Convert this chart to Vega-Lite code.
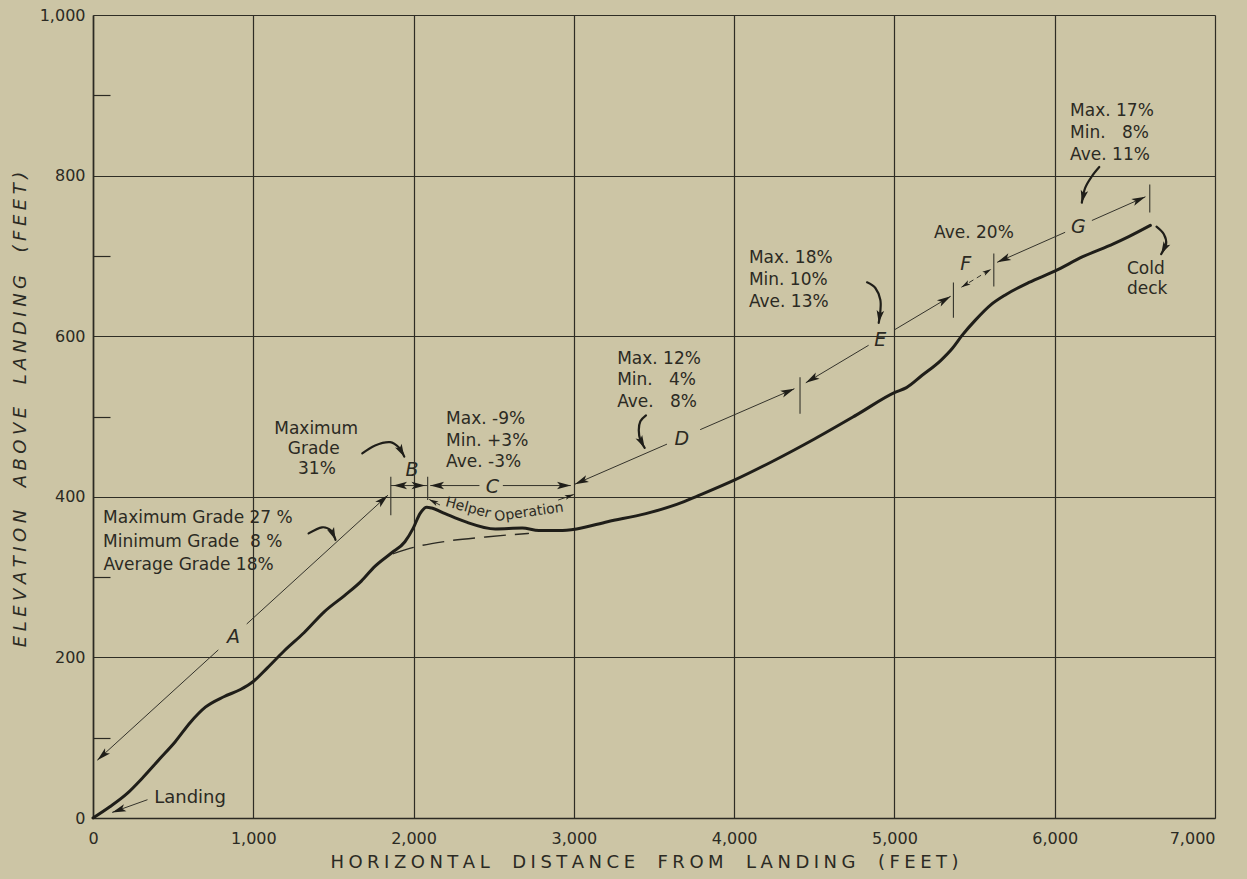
{
  "$schema": "https://vega.github.io/schema/vega-lite/v6.json",
  "width": 1122,
  "height": 803,
  "autosize": {"type": "none"},
  "padding": {"left": 93, "top": 15, "right": 32, "bottom": 61},
  "background": "#ccc5a5",
  "config": {"view": {"stroke": null}, "font": "DejaVu Sans"},
  "datasets": {
    "profile": [{"x":0,"y":0},{"x":105,"y":14},{"x":210,"y":30},{"x":314,"y":51},{"x":418,"y":74},{"x":513,"y":95},{"x":607,"y":119},{"x":701,"y":138},{"x":816,"y":151},{"x":920,"y":160},{"x":1000,"y":170},{"x":1088,"y":187},{"x":1192,"y":208},{"x":1318,"y":231},{"x":1444,"y":257},{"x":1569,"y":277},{"x":1674,"y":295},{"x":1757,"y":313},{"x":1862,"y":330},{"x":1946,"y":344},{"x":1998,"y":361},{"x":2040,"y":379},{"x":2082,"y":387},{"x":2113,"y":386},{"x":2197,"y":379},{"x":2322,"y":369},{"x":2510,"y":360},{"x":2678,"y":361},{"x":2782,"y":358},{"x":2908,"y":358},{"x":3017,"y":360},{"x":3210,"y":369},{"x":3449,"y":379},{"x":3688,"y":394},{"x":3760,"y":400},{"x":4004,"y":421},{"x":4238,"y":444},{"x":4501,"y":472},{"x":4764,"y":502},{"x":5003,"y":530},{"x":5075,"y":536},{"x":5171,"y":551},{"x":5290,"y":570},{"x":5362,"y":585},{"x":5422,"y":601},{"x":5505,"y":620},{"x":5601,"y":639},{"x":5697,"y":652},{"x":5840,"y":667},{"x":6000,"y":681},{"x":6175,"y":699},{"x":6366,"y":715},{"x":6462,"y":724},{"x":6597,"y":738}],
    "dashed": [{"x":1870,"y":329},{"x":2000,"y":337},{"x":2200,"y":344.5},{"x":2450,"y":350},{"x":2720,"y":354.5}],
    "dims": [{"x":27,"y":72,"x2":782,"y2":209.4},{"x":959,"y":241.6,"x2":1840,"y2":402},{"x":1858,"y":414,"x2":2088,"y2":414},{"x":2104,"y":414,"x2":2411,"y2":414},{"x":2557,"y":414,"x2":2981,"y2":414},{"x":3006,"y":415.7,"x2":3581,"y2":465.6},{"x":3788,"y":483.6,"x2":4376,"y2":534.6},{"x":4447,"y":542,"x2":4839,"y2":588.7},{"x":5000,"y":607.9,"x2":5351,"y2":649.7},{"x":5641,"y":692,"x2":6065,"y2":729.4},{"x":6232,"y":744.1,"x2":6566,"y2":773.6},{"x":119.5,"y":7,"x2":340,"y2":22.8},{"x":2098,"y":396.7,"x2":2165,"y2":389.7},{"x":2902,"y":395.9,"x2":3000,"y2":402.9}],
    "fdash": [{"x":5418,"y":661,"x2":5605,"y2":683.7}],
    "ticks": [{"x":1858,"y":377,"y2":425},{"x":2088,"y":396,"y2":425},{"x":4411,"y":503.5,"y2":549},{"x":5368,"y":623,"y2":667},{"x":5620,"y":662,"y2":703},{"x":6593,"y":754,"y2":789}],
    "curves": [
      {"id":"a","i":0,"x":1345,"y":354.5},{"id":"a","i":1,"x":1429,"y":362},{"id":"a","i":2,"x":1485,"y":357.9},{"id":"a","i":3,"x":1513,"y":346.3},
      {"id":"b","i":0,"x":1680,"y":454},{"id":"b","i":1,"x":1760,"y":464},{"id":"b","i":2,"x":1854,"y":468},{"id":"b","i":3,"x":1910,"y":461},{"id":"b","i":4,"x":1942,"y":450},
      {"id":"d","i":0,"x":3450,"y":501.4},{"id":"d","i":1,"x":3415,"y":494},{"id":"d","i":2,"x":3405,"y":482.8},{"id":"d","i":3,"x":3415,"y":470.4},{"id":"d","i":4,"x":3442,"y":460.9},
      {"id":"e","i":0,"x":4829,"y":667.1},{"id":"e","i":1,"x":4881,"y":660},{"id":"e","i":2,"x":4912,"y":645.5},{"id":"e","i":3,"x":4912,"y":631},{"id":"e","i":4,"x":4902,"y":616.6},
      {"id":"g","i":0,"x":6278,"y":810.7},{"id":"g","i":1,"x":6232,"y":799.2},{"id":"g","i":2,"x":6190,"y":784.7},{"id":"g","i":3,"x":6169,"y":766.2},
      {"id":"k","i":0,"x":6635,"y":736.5},{"id":"k","i":1,"x":6681,"y":727},{"id":"k","i":2,"x":6695,"y":714.6},{"id":"k","i":3,"x":6664,"y":702.3}
    ],
    "heads": [{"x":27,"y":72,"fx":200,"fy":103.5},{"x":1840,"y":402,"fx":1700,"fy":376.5},{"x":1873,"y":414,"fx":1950,"fy":414},{"x":2073,"y":414,"fx":2000,"fy":414},{"x":2104,"y":414,"fx":2200,"fy":414},{"x":2981,"y":414,"fx":2900,"fy":414},{"x":3006,"y":415.7,"fx":3200,"fy":432.5},{"x":4376,"y":534.6,"fx":4200,"fy":519.3},{"x":4447,"y":542,"fx":4600,"fy":560.2},{"x":5351,"y":649.7,"fx":5200,"fy":631.7},{"x":5641,"y":692,"fx":5800,"fy":706},{"x":6566,"y":773.6,"fx":6400,"fy":759},{"x":119.5,"y":7,"fx":340,"fy":22.8}],
    "curveheads": [{"x":1513,"y":346.3,"fx":1490,"fy":357},{"x":1942,"y":450,"fx":1915,"fy":460},{"x":3442,"y":460.9,"fx":3418,"fy":470},{"x":4902,"y":616.6,"fx":4911,"fy":630},{"x":6169,"y":766.2,"fx":6186,"fy":782},{"x":6664,"y":702.3,"fx":6692,"fy":713}],
    "smallheads": [{"x":5418,"y":661,"fx":5500,"fy":671},{"x":5605,"y":683.7,"fx":5520,"fy":673.4},{"x":2098,"y":396.7,"fx":2165,"fy":389.7},{"x":3000,"y":402.9,"fx":2902,"fy":395.9}],
    "tleft": [
      {"x":63,"y":373,"t":"Maximum Grade 27 %"},
      {"x":63,"y":343.5,"t":"Minimum Grade\u00a0 8 %"},
      {"x":65,"y":314.5,"t":"Average Grade 18%"},
      {"x":2203,"y":497,"t":"Max. -9%"},
      {"x":2203,"y":469,"t":"Min. +3%"},
      {"x":2203,"y":443.4,"t":"Ave. -3%"},
      {"x":3270,"y":571.8,"t":"Max. 12%"},
      {"x":3270,"y":544.9,"t":"Min. \u20074%"},
      {"x":3270,"y":518,"t":"Ave. \u20078%"},
      {"x":4092,"y":697.3,"t":"Max. 18%"},
      {"x":4092,"y":670.4,"t":"Min. 10%"},
      {"x":4092,"y":642.2,"t":"Ave. 13%"},
      {"x":6096,"y":880.8,"t":"Max. 17%"},
      {"x":6096,"y":852.8,"t":"Min. \u20078%"},
      {"x":6096,"y":826,"t":"Ave. 11%"},
      {"x":6451,"y":684,"t":"Cold"},
      {"x":6451,"y":659,"t":"deck"}
    ],
    "tcenter": [{"x":1392,"y":484.7,"t":"Maximum"},{"x":1377,"y":459.9,"t":"Grade"},{"x":1397,"y":435.1,"t":"31%"},{"x":5496,"y":729,"t":"Ave. 20%"}],
    "letters": [{"x":876,"y":226,"t":"A"},{"x":1990,"y":433,"t":"B"},{"x":2491,"y":412,"t":"C"},{"x":3674,"y":472.5,"t":"D"},{"x":4912,"y":595,"t":"E"},{"x":5445,"y":690,"t":"F"},{"x":6148,"y":736.5,"t":"G"}],
    "landing": [{"x":382,"y":24.8,"t":"Landing"}],
    "helper": [{"x":2340,"y":386,"t":"Helper"}],
    "operation": [{"x":2720,"y":380.6,"t":"Operation"}]
  },
  "encoding": {
    "x": {
      "field": "x", "type": "quantitative",
      "scale": {"domain": [0, 7000], "nice": false, "zero": false},
      "axis": {
        "values": [0,1000,2000,3000,4000,5000,6000,7000],
        "format": ",d",
        "grid": true, "gridColor": "#2e2d25", "gridWidth": 1.2,
        "domain": true, "domainColor": "#2b2a23", "domainWidth": 1.6,
        "ticks": false, "tickSize": 0,
        "labelPadding": 12, "labelFont": "DejaVu Sans", "labelFontSize": 16, "labelColor": "#2b2a23",
        "labelFlush": false, "labelOverlap": false, "labelBaseline": "top",
        "labelAlign": {"condition": {"test": "datum.value == 7000", "value": "right"}, "value": "center"},
        "title": "H\u2005O\u2005R\u2005I\u2005Z\u2005O\u2005N\u2005T\u2005A\u2005L\u2003\u2005D\u2005I\u2005S\u2005T\u2005A\u2005N\u2005C\u2005E\u2003\u2005F\u2005R\u2005O\u2005M\u2003\u2005L\u2005A\u2005N\u2005D\u2005I\u2005N\u2005G\u2003\u2005(\u2005F\u2005E\u2005E\u2005T\u2005)",
        "titleFont": "DejaVu Sans", "titleFontSize": 18, "titleFontWeight": "normal", "titleColor": "#2b2a23",
        "titleX": 551, "titleY": 44, "titleAlign": "center", "titleBaseline": "middle"
      }
    },
    "y": {
      "field": "y", "type": "quantitative",
      "scale": {"domain": [0, 1000], "nice": false, "zero": false},
      "axis": {
        "values": [0,100,200,300,400,500,600,700,800,900,1000],
        "format": ",d",
        "labelExpr": "datum.value % 200 === 0 ? datum.label : ''",
        "grid": true, "gridColor": "#2e2d25", "gridWidth": 1.2,
        "gridOpacity": {"condition": {"test": "datum.value % 200 === 0", "value": 1}, "value": 0},
        "ticks": true, "tickSize": -17, "tickColor": "#2b2a23", "tickWidth": 1.2,
        "tickOpacity": {"condition": {"test": "datum.value % 200 === 0", "value": 0}, "value": 1},
        "domain": true, "domainColor": "#2b2a23", "domainWidth": 1.6,
        "labelPadding": 25, "labelFont": "DejaVu Sans", "labelFontSize": 16, "labelColor": "#2b2a23",
        "labelFlush": false, "labelOverlap": false, "labelBaseline": "middle",
        "title": "E\u2005L\u2005E\u2005V\u2005A\u2005T\u2005I\u2005O\u2005N\u2003\u2005A\u2005B\u2005O\u2005V\u2005E\u2003\u2005L\u2005A\u2005N\u2005D\u2005I\u2005N\u2005G\u2003\u2005(\u2005F\u2005E\u2005E\u2005T\u2005)",
        "titleFont": "DejaVu Sans", "titleFontSize": 18, "titleFontWeight": "normal", "titleFontStyle": "italic", "titleColor": "#2b2a23",
        "titleX": -73, "titleY": 394, "titleAngle": 270, "titleAlign": "center", "titleBaseline": "middle"
      }
    }
  },
  "layer": [
    {"data": {"name": "profile"}, "mark": {"type": "line", "color": "#1f1e19", "strokeWidth": 3, "interpolate": "monotone", "strokeCap": "round"}},
    {"data": {"name": "dashed"}, "mark": {"type": "line", "color": "#2b2a23", "strokeWidth": 1.4, "strokeDash": [22, 9], "interpolate": "monotone"}},
    {"data": {"name": "dims"}, "mark": {"type": "rule", "color": "#34332b", "strokeWidth": 1}, "encoding": {"x2": {"field": "x2"}, "y2": {"field": "y2"}}},
    {"data": {"name": "fdash"}, "mark": {"type": "rule", "color": "#34332b", "strokeWidth": 1, "strokeDash": [5, 4]}, "encoding": {"x2": {"field": "x2"}, "y2": {"field": "y2"}}},
    {"data": {"name": "ticks"}, "mark": {"type": "rule", "color": "#34332b", "strokeWidth": 1.1}, "encoding": {"y2": {"field": "y2"}}},
    {"data": {"name": "curves"}, "mark": {"type": "line", "color": "#1f1e19", "strokeWidth": 2.2, "interpolate": "cardinal", "strokeCap": "round"}, "encoding": {"detail": {"field": "id"}, "order": {"field": "i", "type": "quantitative"}}},
    {"data": {"name": "heads"}, "transform": [{"calculate": "atan2(datum.x - datum.fx, (datum.y - datum.fy) * 5.01) * 180 / PI", "as": "ang"}], "mark": {"type": "point", "shape": "M0,0L0.4,1.5L0,1.15L-0.4,1.5Z", "filled": true, "color": "#1f1e19", "opacity": 1, "size": 340}, "encoding": {"angle": {"field": "ang", "type": "quantitative", "scale": null}}},
    {"data": {"name": "curveheads"}, "transform": [{"calculate": "atan2(datum.x - datum.fx, (datum.y - datum.fy) * 5.01) * 180 / PI", "as": "ang"}], "mark": {"type": "point", "shape": "M0,0L0.45,1.5L0,1.15L-0.45,1.5Z", "filled": true, "color": "#1f1e19", "opacity": 1, "size": 280}, "encoding": {"angle": {"field": "ang", "type": "quantitative", "scale": null}}},
    {"data": {"name": "smallheads"}, "transform": [{"calculate": "atan2(datum.x - datum.fx, (datum.y - datum.fy) * 5.01) * 180 / PI", "as": "ang"}], "mark": {"type": "point", "shape": "M0,0L0.4,1.5L0,1.15L-0.4,1.5Z", "filled": true, "color": "#1f1e19", "opacity": 1, "size": 150}, "encoding": {"angle": {"field": "ang", "type": "quantitative", "scale": null}}},
    {"data": {"name": "tleft"}, "mark": {"type": "text", "font": "DejaVu Sans", "fontSize": 17, "align": "left", "baseline": "middle", "color": "#2b2a23"}, "encoding": {"text": {"field": "t"}}},
    {"data": {"name": "tcenter"}, "mark": {"type": "text", "font": "DejaVu Sans", "fontSize": 17, "align": "center", "baseline": "middle", "color": "#2b2a23"}, "encoding": {"text": {"field": "t"}}},
    {"data": {"name": "letters"}, "mark": {"type": "text", "font": "DejaVu Sans", "fontSize": 19, "fontStyle": "italic", "align": "center", "baseline": "middle", "color": "#2b2a23"}, "encoding": {"text": {"field": "t"}}},
    {"data": {"name": "landing"}, "mark": {"type": "text", "font": "DejaVu Sans", "fontSize": 18, "align": "left", "baseline": "middle", "color": "#2b2a23"}, "encoding": {"text": {"field": "t"}}},
    {"data": {"name": "helper"}, "mark": {"type": "text", "font": "DejaVu Sans", "fontSize": 14, "align": "center", "baseline": "middle", "angle": 15, "color": "#2b2a23"}, "encoding": {"text": {"field": "t"}}},
    {"data": {"name": "operation"}, "mark": {"type": "text", "font": "DejaVu Sans", "fontSize": 14, "align": "center", "baseline": "middle", "angle": -8, "color": "#2b2a23"}, "encoding": {"text": {"field": "t"}}}
  ]
}
